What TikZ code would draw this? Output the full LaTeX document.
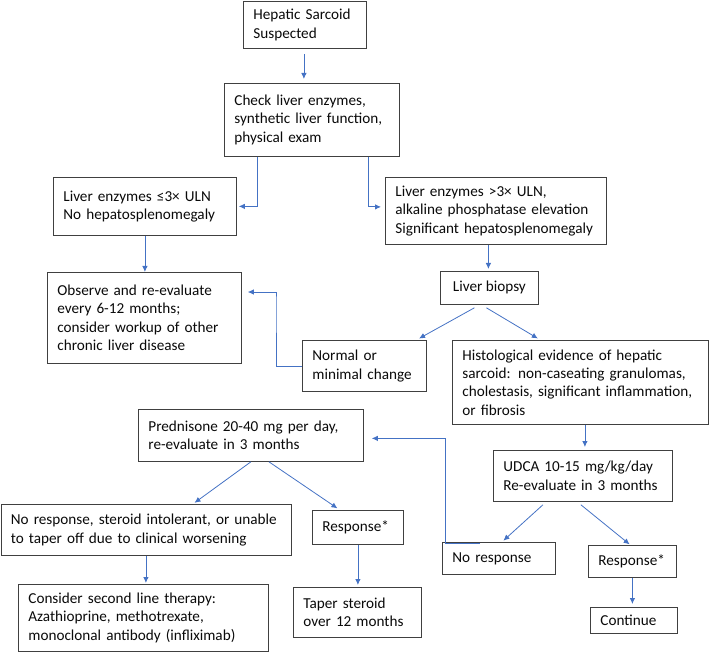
\documentclass[tikz,border=0pt]{standalone}
\usepackage{fontspec}
\setmainfont{Carlito}
\usepackage{tikz}
\usetikzlibrary{arrows.meta}
\definecolor{A}{RGB}{68, 114, 196}
\definecolor{K}{RGB}{64, 64, 64}
\definecolor{T}{RGB}{10, 10, 10}

\begin{document}
\begin{tikzpicture}[x=1pt, y=-1pt,
    box/.style={draw=K, line width=0.8pt, fill=white, text=T, align=left,
        inner xsep=10pt, inner ysep=0pt, anchor=north west,
        font=\fontsize{15.2}{18.4}\selectfont},
    conn/.style={draw=A, line width=0.8pt, -{Latex[length=6pt,width=5.5pt]}}]
    \useasboundingbox (0,0) rectangle (709,652);

    %Cajas de arriba
    \node[box, text width=103pt, minimum height=47pt] (sus) at (243,1) {Hepatic Sarcoid\\Suspected};
    \node[box, text width=155pt, minimum height=73pt] (chk) at (224,83) {Check liver enzymes,\\synthetic liver function,\\physical exam};

    %Rama izquierda
    \node[box, text width=163pt, minimum height=58pt] (low) at (53,177) {Liver enzymes ≤3× ULN\\No hepatosplenomegaly};
    \node[box, text width=174pt, minimum height=91pt] (obs) at (47,272) {Observe and re-evaluate\\every 6-12 months;\\consider workup of other\\chronic liver disease};

    %Rama derecha
    \node[box, text width=201pt, minimum height=67pt] (high) at (385,177) {Liver enzymes >3× ULN,\\alkaline phosphatase elevation\\Significant hepatosplenomegaly};
    \node[box, minimum width=98pt, minimum height=33pt, inner xsep=0pt] (bio) at (440,271) {Liver biopsy};
    \node[box, text width=104pt, minimum height=51pt] (norm) at (302,340) {Normal or\\minimal change};
    \node[box, text width=236pt, minimum height=84pt] (hist) at (452,340) {Histological evidence of hepatic\\sarcoid: non-caseating granulomas,\\cholestasis, significant inflammation,\\or fibrosis};

    %UDCA
    \node[box, text width=159pt, minimum height=51pt] (udca) at (493,450) {UDCA 10-15 mg/kg/day\\Re-evaluate in 3 months};
    \node[box, text width=93pt, minimum height=32pt] (nor2) at (442,542) {No response};
    \node[box, text width=68pt, minimum height=32pt] (resp2) at (588,545) {Response*};
    \node[box, text width=67pt, minimum height=26pt] (cont) at (590,607) {Continue};

    %Prednisona
    \node[box, text width=205pt, minimum height=52pt] (pred) at (138,409) {Prednisone 20-40 mg per day,\\re-evaluate in 3 months};
    \node[box, text width=270pt, minimum height=51pt] (nosr) at (0.5,504) {No response, steroid intolerant, or unable\\to taper off due to clinical worsening};
    \node[box, text width=71pt, minimum height=34pt] (resp1) at (312,510) {Response*};
    \node[box, text width=230pt, minimum height=67pt] (sec) at (18,584) {Consider second line therapy:\\Azathioprine, methotrexate,\\monoclonal antibody (infliximab)};
    \node[box, text width=108pt, minimum height=50pt] (tap) at (293,587) {Taper steroid\\over 12 months};

    %Flechas
    \draw[conn, shorten <=5pt, shorten >=4pt] ([xshift=-1pt]sus.south) -- ([xshift=-1pt]sus.south |- chk.north);
    \draw[conn, shorten >=2pt] ([xshift=33pt]chk.south west) |- (low.east);
    \draw[conn, shorten >=4pt] ([xshift=-31pt]chk.south east) |- ([yshift=4pt]high.west);
    \draw[conn] (low.south) -- (low.south |- obs.north);
    \draw[conn, shorten >=2pt] ([xshift=-1pt]bio.north |- high.south) -- ([xshift=-1pt]bio.north);
    \draw[conn, shorten >=3pt] ([xshift=-15pt,yshift=-3pt]bio.south) -- ([xshift=52pt]norm.north);
    \draw[conn, shorten >=3pt] ([xshift=-3pt,yshift=-3pt]bio.south) -- ([xshift=-40pt]hist.north);
    \draw[conn, shorten >=6pt] (norm.west) -| (276,300) |- ([yshift=-20pt]obs.north east);
    \draw[conn, shorten >=3pt] ([xshift=2pt]udca.north |- hist.south) -- ([xshift=2pt]udca.north);
    \draw[conn, shorten >=2pt] ([xshift=-40pt,yshift=-3pt]udca.south) -- ([xshift=3pt]nor2.north);
    \draw[conn, shorten >=1pt] ([xshift=-2pt,yshift=-3pt]udca.south) -- ([xshift=-2pt]resp2.north);
    \draw[conn, shorten >=3pt] (resp2.south) -- (resp2.south |- cont.north);
    \draw[conn, shorten >=8pt] ([xshift=38pt,yshift=-1pt]nor2.north west) -- ([xshift=3pt,yshift=-1pt]nor2.north west) |- ([yshift=-3pt]pred.east);
    \draw[conn, shorten >=2pt] (pred.south) -- ([xshift=47pt]nosr.north);
    \draw[conn, shorten >=3pt] ([xshift=18pt]pred.south) -- ([xshift=-18pt]resp1.north);
    \draw[conn, shorten >=1pt] (nosr.south) -- (nosr.south |- sec.north);
    \draw[conn, shorten >=2pt] (resp1.south) -- (resp1.south |- tap.north);
\end{tikzpicture}
\end{document}
